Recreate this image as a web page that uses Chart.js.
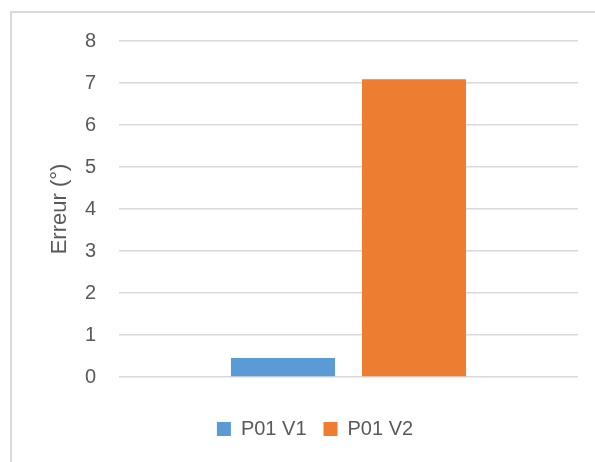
<!DOCTYPE html>
<html>
<head>
<meta charset="utf-8">
<script src="https://cdn.jsdelivr.net/npm/chart.js@4/dist/chart.umd.min.js"></script>
<style>
  html, body { margin:0; padding:0; background:#fff; }
  #wrap { position:relative; width:595px; height:462px; overflow:hidden; }
  #frame { position:absolute; left:10px; top:11px; width:700px; height:600px; border-left:2px solid #d9d9d9; border-top:2px solid #d9d9d9; }
  canvas { position:absolute; left:0; top:0; }
</style>
</head>
<body>
<div id="wrap">
  <div id="frame"></div>
  <canvas id="c" width="595" height="462"></canvas>
</div>
<script>
// données
var categories = [''];
var seriesNames = ['P01 V1', 'P01 V2'];
var seriesValues = [[0.45], [7.09]];
var seriesColors = ['#5b9bd5', '#ed7d31'];
var yTicks = [0, 1, 2, 3, 4, 5, 6, 7, 8];
var yTitle = 'Erreur (°)';

var txt = '#595959';
var fam = '"Liberation Sans", Arial, sans-serif';

var datasets = seriesNames.map(function(n, i){
  return {label:n, data:seriesValues[i], backgroundColor:seriesColors[i], borderWidth:0,
          categoryPercentage:0.571, barPercentage:0.794};
});

var chart = new Chart(document.getElementById('c'), {
  type:'bar',
  data:{labels:categories, datasets:datasets},
  options:{
    responsive:false, animation:false, devicePixelRatio:1,
    layout:{padding:{left:52, right:17, top:41, bottom:13}},
    plugins:{
      tooltip:{enabled:false},
      legend:{position:'bottom',
        labels:{boxWidth:14, boxHeight:14, padding:17, color:txt, font:{family:fam, size:20}}}
    },
    scales:{
      x:{grid:{display:false}, border:{display:false}, ticks:{display:false},
         afterFit:function(s){ s.height = 25; }},
      y:{min:yTicks[0], max:yTicks[yTicks.length-1],
         ticks:{stepSize:1, padding:23, color:txt, font:{family:fam, size:20}},
         grid:{color:'#d9d9d9', lineWidth:1.5, drawTicks:false},
         border:{display:false},
         title:{display:true, text:yTitle, color:txt, font:{family:fam, size:22}, padding:{top:-5, bottom:0}},
         afterFit:function(s){ s.width = 67; }}
    }
  }
});
</script>
</body>
</html>
